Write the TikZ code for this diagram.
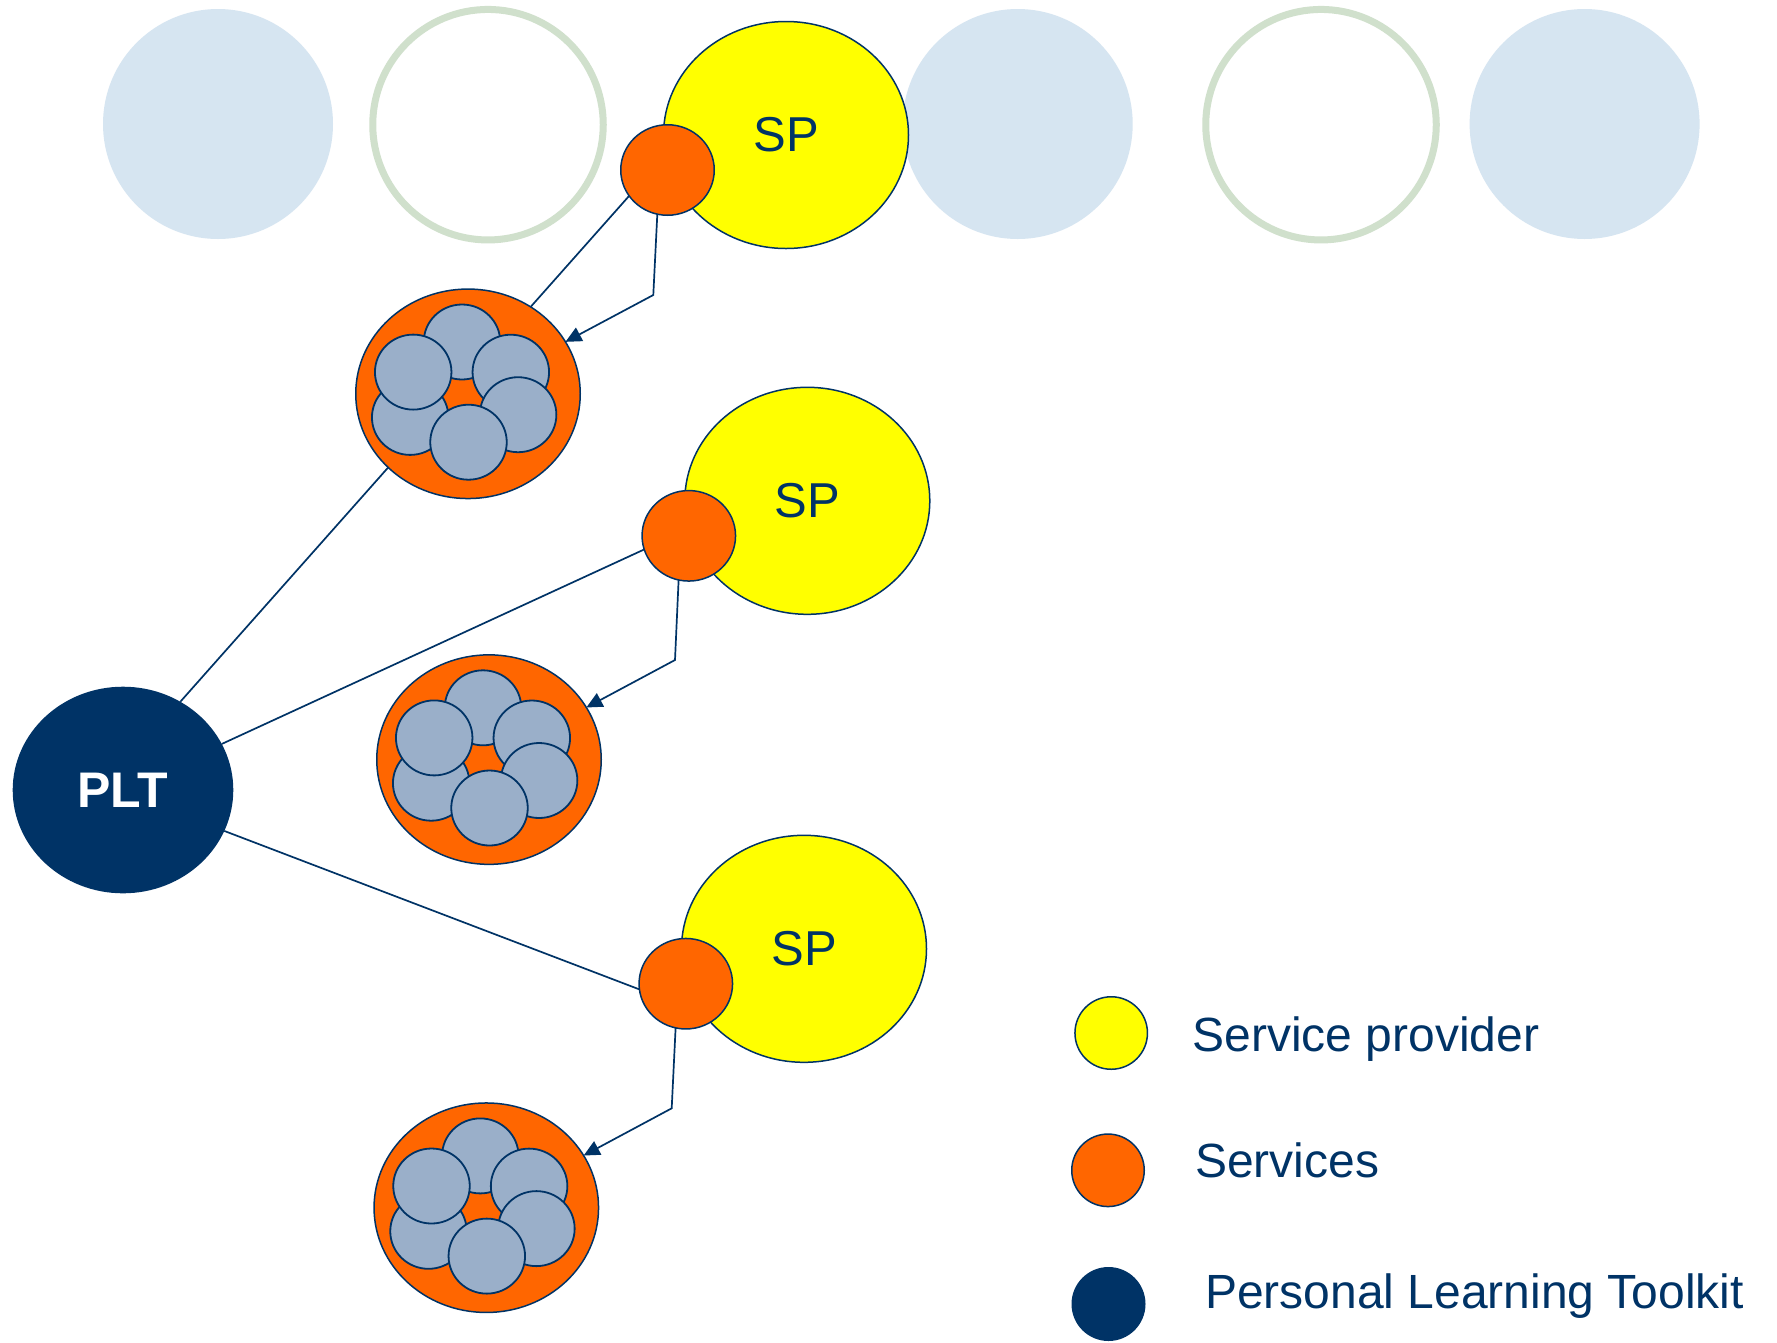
\documentclass[tikz,border=0pt]{standalone}
\usepackage{fontspec}
\setmainfont{Liberation Sans}
\usetikzlibrary{arrows.meta,shapes.geometric}
\pgfdeclarelayer{bg}
\pgfdeclarelayer{lines}
\pgfsetlayers{bg,lines,main}
\definecolor{navy}{RGB}{0,51,102}
\definecolor{spyellow}{RGB}{255,255,0}
\definecolor{svorange}{RGB}{255,102,0}
\definecolor{pebblec}{RGB}{154,175,201}
\definecolor{sage}{RGB}{208,224,204}
\definecolor{stipple}{RGB}{214,229,241}
\newcommand{\bundlenode}[3]{%
  \node[bundle] (#1) at (#2,#3) {};
  \node[unitc] (#1t) at ({#2-6},{#3-51.8}) {};
  \node[unitc] (#1ur) at ({#2+42.8},{#3-21.6}) {};
  \node[unitc] (#1lr) at ({#2+50.1},{#3+20.9}) {};
  \node[unitc] (#1ll) at ({#2-57.8},{#3+23.6}) {};
  \node[unitc] (#1ul) at ({#2-54.8},{#3-21.7}) {};
  \node[unitc] (#1b) at ({#2+0.5},{#3+48.4}) {};
}
\begin{document}
\begin{tikzpicture}[x=1pt,y=-1pt,
  every node/.style={inner sep=0pt,outer sep=0pt},
  provider/.style={ellipse,draw=navy,line width=1.5pt,fill=spyellow,minimum width=245pt,minimum height=227pt,text=navy,font=\fontsize{49}{55}\selectfont},
  service/.style={ellipse,draw=navy,line width=1.5pt,fill=svorange,minimum width=93.5pt,minimum height=90.5pt},
  bundle/.style={ellipse,draw=navy,line width=1.5pt,fill=svorange,minimum width=224.5pt,minimum height=209.5pt},
  unitc/.style={ellipse,draw=navy,line width=1.8pt,fill=pebblec,minimum width=76.5pt,minimum height=75pt},
  dots/.style={circle,fill=stipple,minimum size=230pt},
  ring/.style={circle,draw=sage,line width=7pt,minimum size=230.5pt},
  link/.style={draw=navy,line width=1.7pt},
  feed/.style={link,-{Triangle[length=16pt,width=15pt]}},
  keyc/.style={circle,draw=navy,line width=1.5pt,minimum size=72.5pt},
  keytext/.style={text=navy,font=\fontsize{48}{54}\selectfont,anchor=base west},
]
\useasboundingbox (0,0) rectangle (1777,1342);
\begin{pgfonlayer}{bg}
  \fill[white] (0,0) rectangle (1777,1342);
  \node[dots] (d1) at (218,124) {};
  \node[ring] (r1) at (488,124.7) {};
  \node[dots] (d2) at (1017.7,124) {};
  \node[ring] (r2) at (1321,124.7) {};
  \node[dots] (d3) at (1584.6,124) {};
\end{pgfonlayer}

% clusters of services
\bundlenode{k1}{468}{393.8}
\bundlenode{k2}{489}{759.6}
\bundlenode{k3}{486.3}{1207.7}

% service providers and their services
\node[provider] (y1) at (786,135) {SP};
\node[service] (s1) at (667.5,170) {};
\node[provider] (y2) at (807.3,500.8) {SP};
\node[service] (s2) at (688.8,535.8) {};
\node[provider] (y3) at (804,948.8) {SP};
\node[service] (s3) at (685.8,983.7) {};

% personal learning toolkit
\node[ellipse,fill=navy,minimum width=220.6pt,minimum height=206.6pt,text=white,font=\fontsize{50}{56}\selectfont\bfseries] (plt) at (123,790) {PLT};

% links PLT -> services (behind clusters)
\begin{pgfonlayer}{lines}
  \draw[link] (plt.57) -- (s1.214.5);
  \draw[link] (plt.25.7) -- (s2.197.9);
  \draw[link] (plt.338.1) -- (s3.187.2);
\end{pgfonlayer}

% feeds services -> clusters
\coordinate (c1) at (653.3,295);
\coordinate (c2) at (675,660);
\coordinate (c3) at (671.7,1108.3);
\draw[feed] (s1.257) -- (c1) -- (k1);
\draw[feed] (s2.257) -- (c2) -- (k2);
\draw[feed] (s3.257) -- (c3) -- (k3);

% legend
\node[keyc,fill=spyellow] (ky) at (1111.2,1033) {};
\node[keytext] (ty) at (1192.5,1051.7) {Service provider};
\node[keyc,fill=svorange] (ko) at (1108,1170.3) {};
\node[keytext] (to) at (1195,1177.3) {Services};
\node[keyc,fill=navy] (kn) at (1108.5,1304) {};
\node[keytext] (tn) at (1205,1308.3) {Personal Learning Toolkit};
\end{tikzpicture}
\end{document}
